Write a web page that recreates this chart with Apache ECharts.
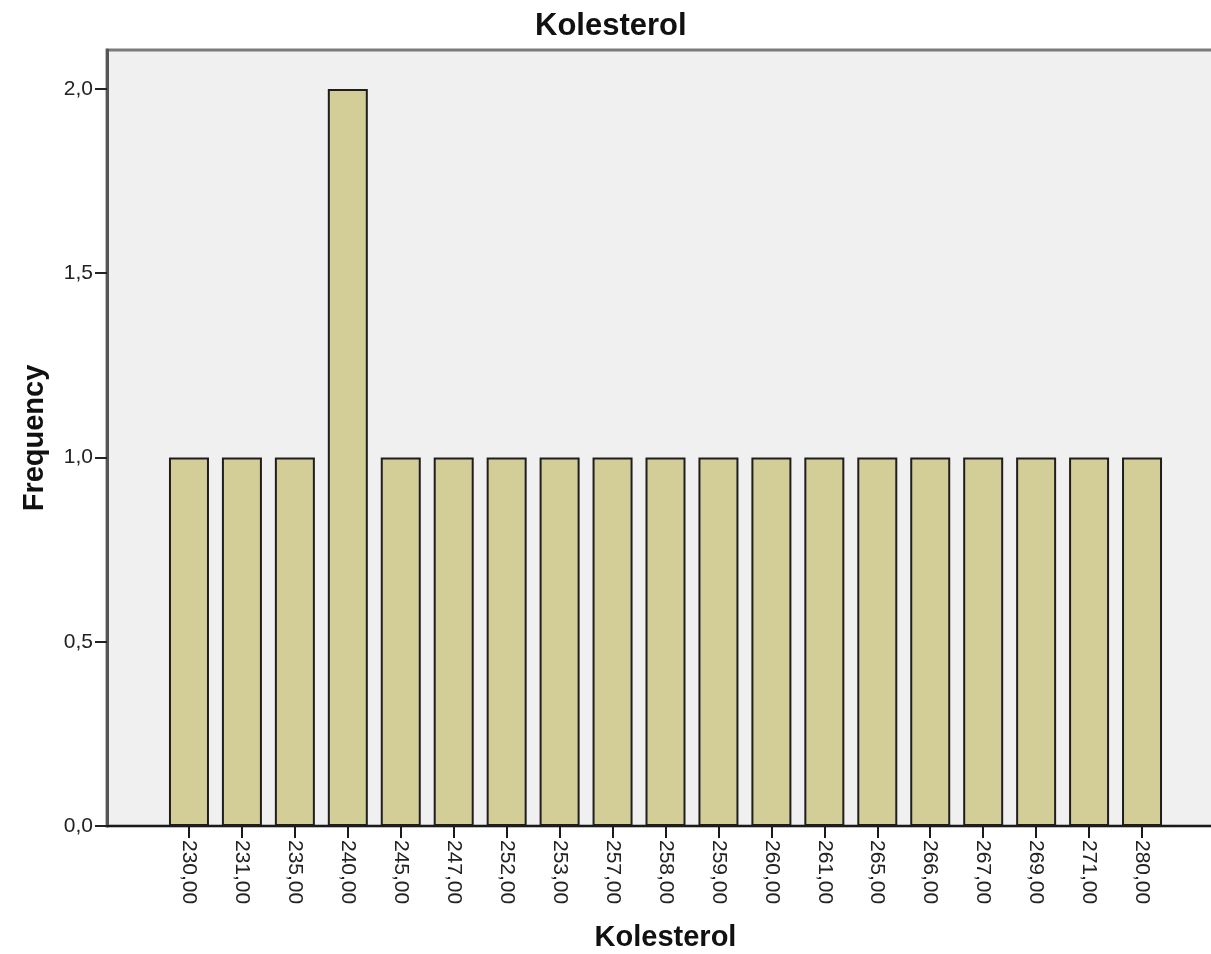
<!DOCTYPE html>
<html>
<head>
<meta charset="utf-8">
<script src="https://cdn.jsdelivr.net/npm/echarts@6/dist/echarts.min.js"></script>
<style>
html,body{margin:0;padding:0;background:#fff;}
#chart{width:1211px;height:954px;}
</style>
</head>
<body>
<div id="chart"></div>
<script>
const categories = ['230,00','231,00','235,00','240,00','245,00','247,00','252,00','253,00','257,00','258,00','259,00','260,00','261,00','265,00','266,00','267,00','269,00','271,00','280,00'];
const frequency = [1,1,1,2,1,1,1,1,1,1,1,1,1,1,1,1,1,1,1];
const yTicks = [0, 0.5, 1, 1.5, 2];
const yTickLabels = ['0,0','0,5','1,0','1,5','2,0'];

const FONT = 'Liberation Sans, Arial, sans-serif';
const Y_MAX = 2.1058;

const chart = echarts.init(document.getElementById('chart'), null, {renderer: 'canvas'});
chart.setOption({
  animation: false,
  backgroundColor: '#ffffff',
  title: {
    text: 'Kolesterol',
    left: 535, top: 11, padding: 0,
    textStyle: {fontFamily: FONT, fontSize: 31, fontWeight: 'bold', color: '#111'}
  },
  grid: [
    {left: 107, top: 50, right: -10, bottom: 128, show: true, backgroundColor: '#f0f0f0', borderColor: '#7a7a7a', borderWidth: 3, containLabel: false, outerBoundsMode: 'none'},
    {left: 162.5, top: 50, right: 42.5, bottom: 128, show: false, containLabel: false, outerBoundsMode: 'none'}
  ],
  xAxis: [
    {gridIndex: 0, type: 'value', min: 0, max: 1, axisLine: {show: true, onZero: false, lineStyle: {color: '#1a1a1a', width: 2}}, axisTick: {show: false}, axisLabel: {show: false}, splitLine: {show: false}},
    {gridIndex: 1, type: 'category', data: categories, boundaryGap: true,
      axisLine: {show: true, onZero: false, lineStyle: {color: '#1a1a1a', width: 2}},
      axisTick: {show: true, alignWithLabel: true, length: 12, lineStyle: {color: '#1a1a1a', width: 2}},
      axisLabel: {rotate: -90, margin: 14, fontFamily: FONT, fontSize: 21, color: '#222', interval: 0},
      name: 'Kolesterol', nameLocation: 'middle', nameGap: 97,
      nameTextStyle: {fontFamily: FONT, fontSize: 29, fontWeight: 'bold', color: '#111'}
    }
  ],
  yAxis: [
    {gridIndex: 0, type: 'value', min: 0, max: Y_MAX,
      axisLine: {show: true, lineStyle: {color: '#555', width: 3}},
      axisTick: {show: true, length: 12, customValues: yTicks, lineStyle: {color: '#222', width: 2}},
      axisLabel: {show: true, margin: 14, customValues: yTicks, fontFamily: FONT, fontSize: 21, color: '#222',
        formatter: function (v) { const i = yTicks.indexOf(v); return i >= 0 ? yTickLabels[i] : ''; }},
      splitLine: {show: false},
      name: 'Frequency', nameLocation: 'middle', nameGap: 58,
      nameTextStyle: {fontFamily: FONT, fontSize: 29, fontWeight: 'bold', color: '#111'}
    },
    {gridIndex: 1, type: 'value', min: 0, max: Y_MAX, show: false, splitLine: {show: false}}
  ],
  series: [{
    type: 'bar', xAxisIndex: 1, yAxisIndex: 1,
    data: frequency, barWidth: 40,
    itemStyle: {color: '#d3ce97', borderColor: '#1e1e1e', borderWidth: 2}
  }]
});
</script>
</body>
</html>
